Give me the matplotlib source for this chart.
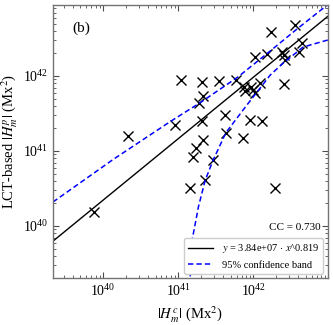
import numpy as np
import matplotlib
matplotlib.use("Agg")
import matplotlib.pyplot as plt

plt.rcParams["font.family"] = "Liberation Serif"
plt.rcParams["mathtext.fontset"] = "stix"

# helicity values (log10, Mx^2)
log_hc = [39.884, 40.333, 40.953, 41.033, 41.316, 41.551, 41.773, 41.327, 41.280,
          41.324, 41.327, 41.240, 41.196, 41.460, 41.353, 41.156, 41.620, 41.637,
          41.863, 41.960, 42.116, 42.293, 41.880, 41.893, 41.967, 42.000, 42.027,
          42.093, 42.027, 42.180, 42.244, 42.551, 42.404, 42.383, 42.404, 42.420,
          42.647, 42.609]
log_hp = [40.191, 41.196, 41.344, 41.953, 41.923, 41.933, 41.947, 41.740, 41.644,
          41.397, 41.147, 41.047, 40.917, 40.880, 40.609, 40.513, 41.480, 41.244,
          41.169, 41.413, 41.400, 40.511, 41.853, 41.807, 41.860, 41.813, 41.773,
          41.907, 42.249, 42.297, 42.591, 42.677, 41.893, 42.324, 42.280, 42.213,
          42.444, 42.324]

# power-law fit y = 3.84e7 x^0.819, end points
fit_lx = [39.333, 42.993]
fit_ly = [39.798, 42.795]

# 95% confidence band
up_lx = [39.333, 40.137, 40.893, 41.293, 41.640, 41.800, 42.173, 42.600, 42.987]
up_ly = [40.320, 40.889, 41.391, 41.644, 41.880, 41.990, 42.290, 42.640, 42.947]
lo_lx = [42.993, 42.667, 42.400, 42.227, 42.000, 41.916, 41.636, 41.467, 41.360,
         41.271, 41.191, 41.160, 41.147]
lo_ly = [42.480, 42.387, 42.173, 42.013, 41.720, 41.613, 41.244, 40.880, 40.607,
         40.257, 39.836, 39.307, 38.900]

cc = 0.730

fig = plt.figure(figsize=(3.33, 3.25), dpi=100)
ax = fig.add_axes([0.159, 0.1446, 0.8245, 0.84])

p = lambda v: 10 ** np.array(v)

ax.plot(p(log_hc), p(log_hp), "x", color="k", ms=7.5, mew=1.0)
ax.plot(p(fit_lx), p(fit_ly), "-", color="k", lw=1.0,
        label=r"$y$ = 3.84e+07 $\cdot$ $x$^0.819")
ax.plot(p(up_lx), p(up_ly), "--", color="b", lw=1.1, dashes=(3.5, 2),
        label="95% confidence band")
ax.plot(p(lo_lx), p(lo_ly), "--", color="b", lw=1.1, dashes=(3.5, 2))

ax.set_xscale("log")
ax.set_yscale("log")
ax.set_xlim(10 ** 39.333, 10 ** 42.99)
ax.set_ylim(10 ** 39.307, 10 ** 42.947)

ax.tick_params(which="both", direction="in", top=True, right=True, labelsize=10,
               color="0.3")
ax.tick_params(which="major", length=4)
ax.tick_params(which="minor", length=2.2)
for s in ax.spines.values():
    s.set_color("0.45")
    s.set_linewidth(1.0)

ax.set_xlabel(r"$|H_m^c|$ (Mx$^2$)", fontsize=10.5)
ax.set_ylabel(r"LCT-based $|H_m^p|$ (Mx$^2$)", fontsize=10.5, labelpad=2)

ax.text(0.07, 0.9, "(b)", transform=ax.transAxes, fontsize=11)
ax.text(0.975, 0.185, "CC = %.3f" % cc, transform=ax.transAxes, fontsize=8,
        ha="right", va="center")

leg = ax.legend(loc="lower right", fontsize=7.5, handlelength=2.4,
                borderaxespad=0.4, framealpha=1)
leg.get_frame().set_edgecolor("0.8")

fig.savefig("out.png", dpi=100)
